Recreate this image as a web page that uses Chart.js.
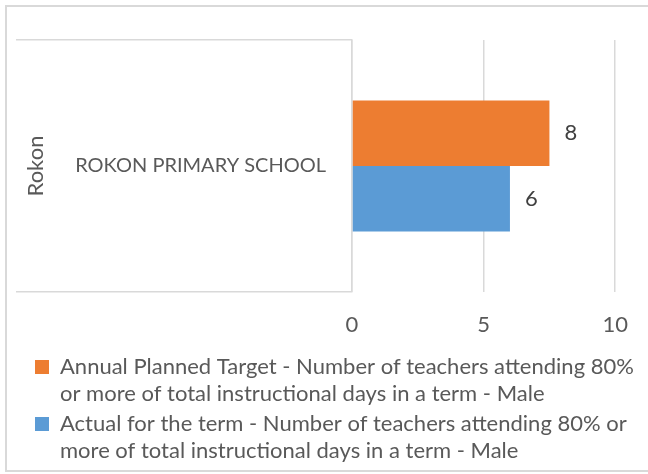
<!DOCTYPE html>
<html>
<head>
<meta charset="utf-8">
<script src="https://cdn.jsdelivr.net/npm/chart.js@4.4.1/dist/chart.umd.min.js"></script>
<style>
    html, body { margin: 0; padding: 0; background: #ffffff; }
    #wrap { width: 648px; height: 474px; }
</style>
</head>
<body>
<div id="wrap"><canvas id="chart" width="648" height="474"></canvas></div>
<script>
// Data
const groupLabel = 'Rokon';
const categories = ['ROKON PRIMARY SCHOOL'];
const targetValues = [7.5];
const actualValues = [6];
const xTicks = [0, 5, 10];

const targetLegend = ['Annual Planned Target - Number of teachers attending 80%', 'or more of total instructional days in a term - Male'];
const actualLegend = ['Actual for the term - Number of teachers attending 80% or', 'more of total instructional days in a term - Male'];

const ORANGE = '#ED7D31';
const BLUE = '#5B9BD5';
const TEXT = '#595959';
const GRID = '#D9D9D9';
const FONT = 'Lato, "Open Sans", sans-serif';

// outer frame like the Excel chart border
const framePlugin = {
    id: 'frame',
    beforeDraw(chart) {
        const ctx = chart.ctx;
        ctx.save();
        ctx.strokeStyle = GRID;
        ctx.lineWidth = 2;
        ctx.strokeRect(6, 6, chart.width + 10, 465);
        ctx.restore();
    }
};

// labels and legend lines hang outside their boxes, so widen the clip boxes
const clipFix = {
    id: 'clipFix',
    afterLayout(chart) {
        chart.scales.x.bottom = chart.legend.top + 24;
        chart.legend.bottom = chart.height;
        chart.legend.right = chart.width;
    }
};

// value labels at the end of each bar
const valueLabels = {
    id: 'valueLabels',
    afterDatasetsDraw(chart) {
        const ctx = chart.ctx;
        ctx.save();
        ctx.font = '22px ' + FONT;
        ctx.fillStyle = '#404040';
        ctx.textAlign = 'left';
        ctx.textBaseline = 'middle';
        chart.data.datasets.forEach((ds, i) => {
            chart.getDatasetMeta(i).data.forEach((bar, j) => {
                ctx.fillText(Math.round(ds.data[j]).toString(), bar.x + 15, bar.y);
            });
        });
        ctx.restore();
    }
};

new Chart(document.getElementById('chart'), {
    type: 'bar',
    data: {
        labels: categories,
        datasets: [
            {
                label: targetLegend.join(' '),
                data: targetValues,
                backgroundColor: ORANGE,
                legendLines: targetLegend
            },
            {
                label: actualLegend.join(' '),
                data: actualValues,
                backgroundColor: BLUE,
                legendLines: actualLegend
            }
        ]
    },
    options: {
        indexAxis: 'y',
        responsive: false,
        animation: false,
        categoryPercentage: 0.52,
        barPercentage: 1.0,
        layout: { padding: { left: 0, right: 28, top: 40, bottom: 29 } },
        scales: {
            x: {
                min: 0,
                max: 10,
                afterBuildTicks: (scale) => { scale.ticks = xTicks.map(v => ({ value: v })); },
                afterFit: (scale) => { scale.height = 29; },
                grid: { color: GRID, lineWidth: 1.5, drawTicks: false },
                border: { display: false },
                ticks: { color: TEXT, padding: 20, font: { family: FONT, size: 22 } }
            },
            y: {
                afterFit: (scale) => { scale.width = 352; },
                grid: { color: GRID, lineWidth: 1.5, drawOnChartArea: false, drawTicks: true, tickLength: 336, offset: true },
                border: { display: true, color: GRID, width: 1.5 },
                ticks: { color: TEXT, crossAlign: 'center', padding: -310, font: { family: FONT, size: 20 } },
                title: { display: true, text: groupLabel, color: TEXT, padding: { top: 23, bottom: 0 }, font: { family: FONT, size: 22 } }
            }
        },
        plugins: {
            tooltip: { enabled: false },
            legend: {
                position: 'bottom',
                align: 'start',
                labels: {
                    boxWidth: 14,
                    boxHeight: 14,
                    padding: 35,
                    color: TEXT,
                    font: { family: FONT, size: 22, lineHeight: 1.23 },
                    generateLabels: (chart) => chart.data.datasets.map((ds, i) => ({
                        text: ds.legendLines,
                        fillStyle: ds.backgroundColor,
                        strokeStyle: ds.backgroundColor,
                        lineWidth: 0,
                        fontColor: TEXT,
                        hidden: false,
                        datasetIndex: i
                    }))
                }
            }
        }
    },
    plugins: [framePlugin, clipFix, valueLabels]
});
</script>
</body>
</html>
